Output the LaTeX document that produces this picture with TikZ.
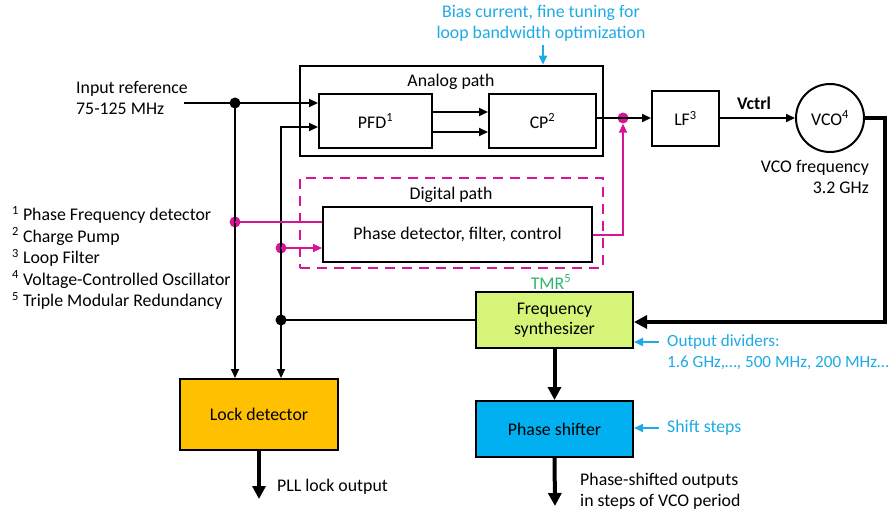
\documentclass[tikz,border=0pt]{standalone}
\usepackage{fontspec}
\setmainfont{Carlito}
\usetikzlibrary{arrows.meta,calc}
\definecolor{magC}{RGB}{215,20,150}
\definecolor{blueT}{RGB}{30,170,230}
\definecolor{greenT}{RGB}{50,180,110}
\definecolor{fsFill}{RGB}{214,245,120}
\definecolor{ldFill}{RGB}{255,192,0}
\definecolor{psFill}{RGB}{0,176,240}
\begin{document}
\begin{tikzpicture}[x=1pt,y=-1pt,
  font=\fontsize{17.8}{21.5}\selectfont,
  blk/.style={draw, line width=2pt, inner sep=0pt, align=center},
  grp/.style={draw, line width=2.6pt, inner sep=0pt},
  dgrp/.style={draw=magC, line width=2.6pt, inner sep=0pt, dash pattern=on 10pt off 7pt},
  conn/.style={line width=2pt, -{Triangle[length=9pt,width=8pt]}},
  plain/.style={line width=2pt},
  thk/.style={line width=4pt, -{Triangle[length=13pt,width=13pt]}},
  mconn/.style={draw=magC, line width=2pt, -{Triangle[length=9pt,width=8pt]}},
  mplain/.style={draw=magC, line width=2pt},
  bconn/.style={draw=blueT, line width=2pt, -{Triangle[length=9pt,width=8pt]}},
  bdot/.style={circle, fill=black, inner sep=0pt, minimum size=11pt},
  mdot/.style={circle, fill=magC, inner sep=0pt, minimum size=11pt},
  lbl/.style={inner sep=0pt}
]
\useasboundingbox (0,0) rectangle (896,511);

% group boxes
\node[grp, minimum width=303pt, minimum height=90pt] (analog) at (451.5,111) {};
\node[dgrp, minimum width=303pt, minimum height=90pt] (digital) at (451.5,223) {};
\node[lbl] (analoglbl) at (451,82) {Analog path};
\node[lbl] (digitallbl) at (451,195) {Digital path};

% blocks
\node[blk, minimum width=113pt, minimum height=54pt] (pfd) at (375.5,121) {PFD\textsuperscript{1}};
\node[blk, minimum width=107pt, minimum height=54pt] (cp) at (542.5,121) {CP\textsuperscript{2}};
\node[blk, minimum width=67pt, minimum height=55pt] (lf) at (685.5,118.5) {LF\textsuperscript{3}};
\node[draw, circle, line width=2pt, minimum size=68pt, inner sep=0pt] (vco) at (830,118) {VCO\textsuperscript{4}};
\node[blk, minimum width=269pt, minimum height=55pt] (dig) at (457.5,234.5) {Phase detector, filter, control};
\node[blk, fill=fsFill, minimum width=157pt, minimum height=56pt] (fs) at (554.5,320) {Frequency\\[-1.5pt]synthesizer};
\node[blk, fill=psFill, minimum width=157pt, minimum height=56pt] (ps) at (554.5,429) {Phase shifter};
\node[blk, fill=ldFill, minimum width=158pt, minimum height=71pt] (ld) at (259,414.5) {Lock detector};

% junctions
\coordinate (in) at (184,103);
\node[bdot] (j1) at (235,103) {};
\node[bdot] (j2) at (281,320) {};
\node[mdot] (m1) at (623,118) {};
\node[mdot] (m2) at (235,222) {};
\node[mdot] (m3) at (281,248) {};
\coordinate (vc) at (885,118);
\coordinate (ldout) at (259,499);
\coordinate (psout) at (555,506);
\coordinate (bias) at (543,45);
\coordinate (od) at (659,342);
\coordinate (ss) at (659,428);

% texts
\node[lbl, anchor=west, align=left] (inref) at (76,98) {Input reference\\75-125 MHz};
\node[lbl, align=center, text=blueT] (biastxt) at (541,23.5) {Bias current, fine tuning for\\loop bandwidth optimization};
\node[lbl, font=\fontsize{17.8}{21.5}\selectfont\bfseries] (vctrl) at (754,103) {Vctrl};
\node[lbl, anchor=east, align=right] (vcof) at (869,177) {VCO frequency\\3.2 GHz};
\node[lbl, text=greenT] (tmr) at (551,282) {TMR\textsuperscript{5}};
\node[lbl, anchor=west, align=left] (legend) at (12,258) {\textsuperscript{1} Phase Frequency detector\\\textsuperscript{2} Charge Pump\\\textsuperscript{3} Loop Filter\\\textsuperscript{4} Voltage-Controlled Oscillator\\\textsuperscript{5} Triple Modular Redundancy};
\node[lbl, anchor=west, align=left, text=blueT, font=\fontsize{17.1}{21}\selectfont] (odtxt) at (667,352.5) {Output dividers:\\1.6 GHz,…, 500 MHz, 200 MHz…};
\node[lbl, anchor=west, text=blueT] (sstxt) at (667,428) {Shift steps};
\node[lbl, anchor=west] (pllout) at (277,487) {PLL lock output};
\node[lbl, anchor=west, align=left] (psotxt) at (580,491) {Phase-shifted outputs\\in steps of VCO period};

% connectors
\draw[conn] (in) -- (pfd.west |- in);
\draw[conn] (j1.center) -- (j1 |- ld.north);
\draw[conn] (j2.center) -- (j2 |- ld.north);
\draw[conn] (j2.center) |- ($(pfd.west)+(0,6)$);
\draw[plain] (fs.west) -- (j2.center);
\draw[conn] ($(pfd.east)+(0,-9)$) -- ($(cp.west)+(0,-9)$);
\draw[conn] ($(pfd.east)+(0,11)$) -- ($(cp.west)+(0,11)$);
\draw[plain] (cp.east |- m1) -- (m1.center);
\draw[conn] (m1.center) -- (lf.west |- m1);
\draw[conn] (lf.east |- vco) -- (vco.west);
\draw[thk] (vco.east) -- (vc) |- ($(fs.east)+(0,2)$);
\draw[thk] (fs.south) -- (ps.north);
\draw[thk] (ld.south) -- (ldout);
\draw[thk] (ps.south) -- (psout);

% magenta
\draw[mplain] (m2.center) -- (dig.west |- m2);
\draw[mconn] (m3.center) -- (dig.west |- m3);
\draw[mconn] (dig.east) -| (m1.south);

% blue
\draw[bconn] (bias) -- (bias |- analog.north);
\draw[bconn] (od) -- (od -| fs.east);
\draw[bconn] (ss) -- (ss -| ps.east);
\end{tikzpicture}
\end{document}
